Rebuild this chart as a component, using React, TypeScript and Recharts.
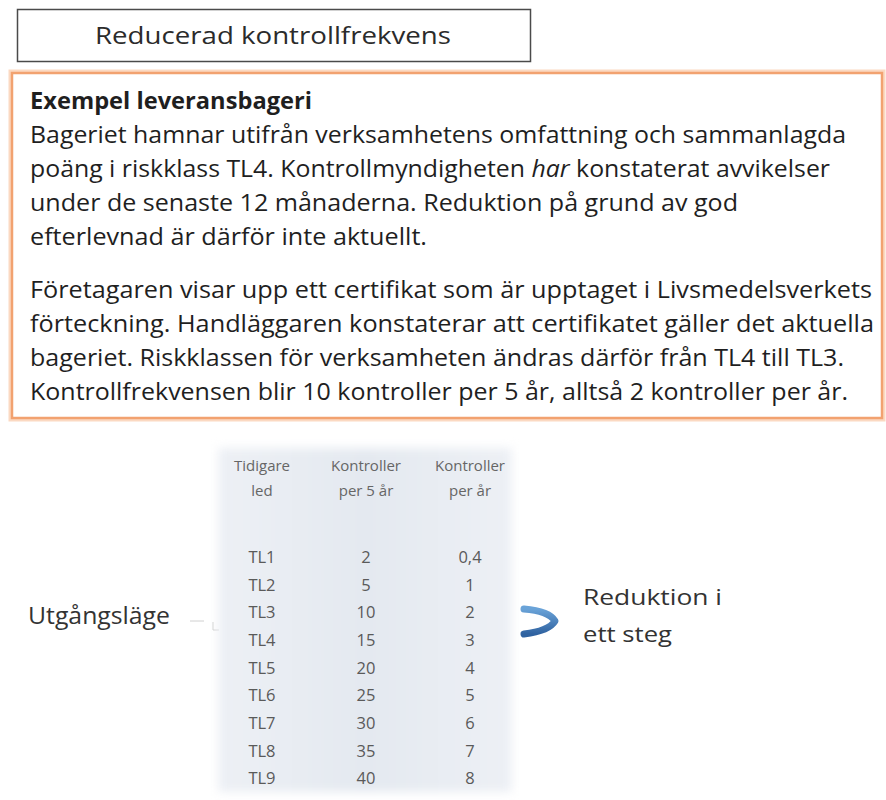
import { ScatterChart, Scatter, XAxis, YAxis } from "recharts";

const FONT = "'Open Sans', 'Noto Sans', sans-serif";

// table: control frequency per risk level
const levels = ["TL1", "TL2", "TL3", "TL4", "TL5", "TL6", "TL7", "TL8", "TL9"];
const perFiveYears = [2, 5, 10, 15, 20, 25, 30, 35, 40];
const perYear = [0.4, 1, 2, 3, 4, 5, 6, 7, 8];
const columns = ["Tidigare led", "Kontroller per 5 år", "Kontroller per år"];
const columnHeadTop = ["Tidigare", "Kontroller", "Kontroller"];
const columnHeadBottom = ["led", "per 5 år", "per år"];

const title = "Reducerad kontrollfrekvens";
const heading = "Exempel leveransbageri";
const paragraphOne = [
  "Bageriet hamnar utifrån verksamhetens omfattning och sammanlagda",
  "poäng i riskklass TL4. Kontrollmyndigheten |har| konstaterat avvikelser",
  "under de senaste 12 månaderna. Reduktion på grund av god",
  "efterlevnad är därför inte aktuellt.",
];
const paragraphTwo = [
  "Företagaren visar upp ett certifikat som är upptaget i Livsmedelsverkets",
  "förteckning. Handläggaren konstaterar att certifikatet gäller det aktuella",
  "bageriet. Riskklassen för verksamheten ändras därför från TL4 till TL3.",
  "Kontrollfrekvensen blir 10 kontroller per 5 år, alltså 2 kontroller per år.",
];
const startLabel = "Utgångsläge";
const reductionLabel = ["Reduktion i", "ett steg"];

// line widths measured off the slide
const paragraphOneWidths = [816, 800, 708, 397];
const paragraphTwoWidths = [842, 844, 814, 818];

const fmt = (v: number) => String(v).replace(".", ",");

const levelCells = levels.map((level) => ({ col: columns[0], level, text: level }));
const fiveYearCells = levels.map((level, i) => ({
  col: columns[1],
  level,
  text: fmt(perFiveYears[i]),
}));
const yearCells = levels.map((level, i) => ({
  col: columns[2],
  level,
  text: fmt(perYear[i]),
}));

function CellText(props: any) {
  const { cx, cy, payload } = props;
  return (
    <text
      x={cx}
      y={cy}
      dy={6}
      textAnchor="middle"
      fontSize={16.5}
      fontFamily={FONT}
      fill="#5a5a5a"
    >
      {payload.text}
    </text>
  );
}

function HeaderTick(props: any) {
  const { x, y, payload } = props;
  const i = columns.indexOf(payload.value);
  return (
    <g fontFamily={FONT} fontSize={15} fill="#666" textAnchor="middle">
      <text x={x} y={y - 64}>{columnHeadTop[i]}</text>
      <text x={x} y={y - 39}>{columnHeadBottom[i]}</text>
    </g>
  );
}

function Line({ text, y, width }: { text: string; y: number; width: number }) {
  const parts = text.split("|");
  return (
    <text x={30} y={y} fontSize={24} fill="#1f1f1f" textLength={width} lengthAdjust="spacingAndGlyphs">
      {parts.map((p, i) => (
        <tspan key={i} fontStyle={i % 2 === 1 ? "italic" : "normal"}>
          {p}
        </tspan>
      ))}
    </text>
  );
}

export default function App() {
  return (
    <div
      style={{
        position: "absolute",
        left: 0,
        top: 0,
        width: 886,
        height: 800,
        background: "#fff",
        overflow: "hidden",
      }}
    >
      <svg width={886} height={800} style={{ position: "absolute", left: 0, top: 0 }} fontFamily={FONT}>
        {/* title box */}
        <rect x={17.5} y={9.5} width={513} height={52} fill="#fff" stroke="#4a4a4a" strokeWidth={1.5} />
        <text x={95} y={44} fontSize={24} fill="#2b2b2b" textLength={356} lengthAdjust="spacingAndGlyphs">
          {title}
        </text>

        {/* example box */}
        <rect x={12} y={73} width={870} height={345} fill="none" stroke="#fbd9c2" strokeWidth={7} />
        <rect x={12} y={73} width={870} height={345} fill="#fff" stroke="#f2a270" strokeWidth={2.5} />
        <text x={30} y={109} fontSize={24} fontWeight="bold" fill="#1f1f1f" textLength={282} lengthAdjust="spacingAndGlyphs">
          {heading}
        </text>
        {paragraphOne.map((t, i) => (
          <Line key={t} text={t} y={143 + i * 34} width={paragraphOneWidths[i]} />
        ))}
        {paragraphTwo.map((t, i) => (
          <Line key={t} text={t} y={298 + i * 34} width={paragraphTwoWidths[i]} />
        ))}

        {/* start level label */}
        <text x={28} y={624} fontSize={23} fill="#333" textLength={142} lengthAdjust="spacingAndGlyphs">
          {startLabel}
        </text>
        <line x1={190} y1={621} x2={204} y2={621} stroke="#d0d0d0" strokeWidth={1} />
        <path d="M213 622 L213 630 L219 630" stroke="#d0d0d0" strokeWidth={1} fill="none" />

        {/* reduction arrow */}
        <defs>
          <linearGradient id="arrowGrad" x1="0" y1="0" x2="0" y2="1">
            <stop offset="0%" stopColor="#6aa3d8" />
            <stop offset="100%" stopColor="#2f62a0" />
          </linearGradient>
        </defs>
        <path
          d="M524 609 Q549 611 555 621 Q549 631 524 634"
          stroke="url(#arrowGrad)"
          strokeWidth={7}
          strokeLinecap="round"
          strokeLinejoin="round"
          fill="none"
        />
        <text x={583} y={605} fontSize={22} fill="#333" textLength={139} lengthAdjust="spacingAndGlyphs">
          {reductionLabel[0]}
        </text>
        <text x={583} y={642} fontSize={22} fill="#333" textLength={89} lengthAdjust="spacingAndGlyphs">
          {reductionLabel[1]}
        </text>
      </svg>

      <div
        style={{
          position: "absolute",
          left: 218,
          top: 448,
          width: 294,
          height: 344,
          background: "linear-gradient(90deg, #edf0f5 0%, #e4e9f0 50%, #edf0f5 100%)",
          filter: "blur(5px)",
        }}
      />

      <div style={{ position: "absolute", left: 210, top: 443 }}>
        <ScatterChart width={312} height={355} margin={{ top: 10, right: 0, bottom: 6, left: 0 }}>
          <XAxis
            type="category"
            dataKey="col"
            orientation="top"
            height={90}
            axisLine={false}
            tickLine={false}
            interval={0}
            allowDuplicatedCategory={false}
            tick={<HeaderTick />}
          />
          <YAxis type="category" dataKey="level" hide reversed allowDuplicatedCategory={false} />
          <Scatter data={levelCells} shape={CellText} isAnimationActive={false} />
          <Scatter data={fiveYearCells} shape={CellText} isAnimationActive={false} />
          <Scatter data={yearCells} shape={CellText} isAnimationActive={false} />
        </ScatterChart>
      </div>
    </div>
  );
}
